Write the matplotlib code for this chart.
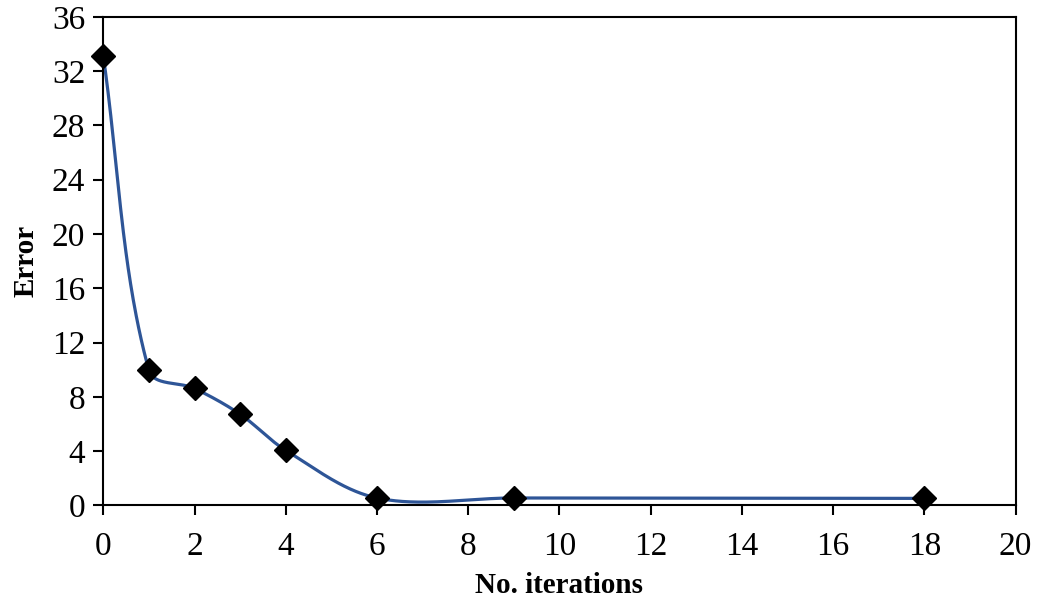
import numpy as np
import matplotlib.pyplot as plt

# Data
iterations = [0, 1, 2, 3, 4, 6, 9, 18]
error = [33.1, 9.95, 8.62, 6.72, 4.06, 0.55, 0.55, 0.52]

x_ticks = list(range(0, 21, 2))
y_ticks = list(range(0, 37, 4))


def smooth_curve(ax, x, y, n=80):
    # Excel-like smoothed line: cubic Bezier segments built in display space,
    # tangent magnitude scaled by the segment length to limit overshoot
    pts = ax.transData.transform(np.column_stack([x, y]))
    out = []
    t = np.linspace(0, 1, n)[:, None]
    m = len(pts)
    for i in range(m - 1):
        p0, p3 = pts[i], pts[i + 1]
        seg = np.linalg.norm(p3 - p0)
        d0 = (pts[i + 1] - pts[i - 1]) if i > 0 else (p3 - p0)
        d1 = (pts[i + 2] - pts[i]) if i + 2 < m else (p3 - p0)
        d0 = d0 / np.linalg.norm(d0)
        d1 = d1 / np.linalg.norm(d1)
        c1 = p0 + d0 * seg / 3
        c2 = p3 - d1 * seg / 3
        b = (1 - t) ** 3 * p0 + 3 * (1 - t) ** 2 * t * c1 + 3 * (1 - t) * t ** 2 * c2 + t ** 3 * p3
        out.append(b)
    b = np.vstack(out)
    d = ax.transData.inverted().transform(b)
    return d[:, 0], d[:, 1]


plt.rcParams['font.family'] = ['Liberation Serif', 'DejaVu Serif']
plt.rcParams['font.size'] = 24

fig = plt.figure(figsize=(10.38, 6.01), dpi=100)
ax = fig.add_axes([0.0995, 0.159, 0.879, 0.813])

ax.set_xlim(0, 20)
ax.set_ylim(0, 36)

sx, sy = smooth_curve(ax, iterations, error)
ax.plot(sx, sy, color='#2E5597', linewidth=2.3, zorder=2)
ax.plot(iterations, error, linestyle='none', marker='D', markersize=12,
        color='black', zorder=3, clip_on=False)

ax.set_xticks(x_ticks)
ax.set_yticks(y_ticks)
ax.tick_params(direction='out', length=7, width=1.5, labelsize=24)
ax.tick_params(axis='x', pad=12)
ax.tick_params(axis='y', pad=6)
for s in ax.spines.values():
    s.set_linewidth(1.5)

ax.set_xlabel('No. iterations', fontweight='bold', fontsize=21, labelpad=7)
ax.set_ylabel('Error', fontweight='bold', fontsize=21, labelpad=9)

fig.savefig('out.png', dpi=100)
